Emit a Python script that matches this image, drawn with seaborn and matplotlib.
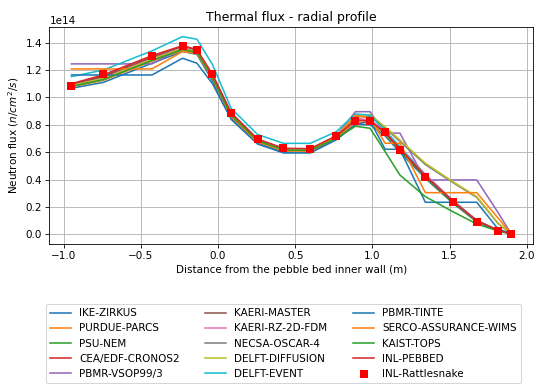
import numpy as np
import matplotlib
matplotlib.use('Agg')
import matplotlib.pyplot as plt
import seaborn as sns
import pandas as pd

# distance from the pebble bed inner wall (m)
x = [-0.95, -0.743, -0.428, -0.23, -0.137, -0.036, 0.085, 0.256, 0.424, 0.597,
     0.765, 0.89, 0.985, 1.082, 1.178, 1.343, 1.52, 1.676, 1.814, 1.898]

# thermal flux, units of 1e14 n/cm2/s
ike_zirkus = [1.067, 1.110, 1.250, 1.335, 1.315, 1.120, 0.850, 0.668, 0.600, 0.600,
              0.700, 0.805, 0.800, 0.720, 0.600, 0.410, 0.230, 0.095, 0.030, 0.006]
purdue_parcs = [1.078, 1.125, 1.265, 1.345, 1.325, 1.140, 0.865, 0.680, 0.612, 0.610,
                0.705, 0.820, 0.815, 0.735, 0.610, 0.420, 0.240, 0.100, 0.032, 0.006]
psu_nem = [1.088, 1.140, 1.280, 1.360, 1.335, 1.150, 0.875, 0.688, 0.620, 0.618,
           0.712, 0.840, 0.830, 0.740, 0.612, 0.415, 0.232, 0.092, 0.028, 0.006]
cea_cronos2 = [1.095, 1.155, 1.295, 1.370, 1.345, 1.160, 0.882, 0.693, 0.625, 0.622,
               0.716, 0.845, 0.835, 0.748, 0.622, 0.425, 0.240, 0.097, 0.029, 0.006]
pbmr_vsop = [1.245, 1.245, 1.245, 1.362, 1.345, 1.165, 0.880, 0.690, 0.622, 0.620,
             0.720, 0.896, 0.896, 0.740, 0.740, 0.398, 0.398, 0.398, 0.160, 0.006]
kaeri_master = [1.092, 1.150, 1.290, 1.368, 1.340, 1.158, 0.880, 0.692, 0.624, 0.621,
                0.714, 0.838, 0.832, 0.752, 0.630, 0.430, 0.245, 0.100, 0.030, 0.006]
kaeri_rz = [1.085, 1.140, 1.282, 1.362, 1.336, 1.152, 0.876, 0.688, 0.620, 0.618,
            0.712, 0.842, 0.836, 0.755, 0.640, 0.440, 0.250, 0.105, 0.032, 0.006]
necsa_oscar = [1.082, 1.135, 1.275, 1.355, 1.330, 1.148, 0.872, 0.685, 0.618, 0.616,
               0.715, 0.860, 0.860, 0.775, 0.680, 0.510, 0.380, 0.270, 0.080, 0.006]
delft_diffusion = [1.086, 1.138, 1.278, 1.358, 1.332, 1.150, 0.874, 0.687, 0.619, 0.617,
                   0.718, 0.870, 0.875, 0.785, 0.690, 0.520, 0.386, 0.276, 0.083, 0.006]
delft_event = [1.152, 1.200, 1.340, 1.444, 1.425, 1.240, 0.920, 0.730, 0.665, 0.665,
               0.750, 0.880, 0.870, 0.760, 0.640, 0.430, 0.245, 0.100, 0.030, 0.006]
pbmr_tinte = [1.164, 1.164, 1.164, 1.286, 1.250, 1.100, 0.840, 0.660, 0.595, 0.595,
              0.690, 0.800, 0.830, 0.622, 0.622, 0.235, 0.235, 0.235, 0.040, 0.006]
serco_wims = [1.208, 1.208, 1.208, 1.335, 1.320, 1.140, 0.860, 0.675, 0.610, 0.610,
              0.705, 0.870, 0.850, 0.666, 0.666, 0.305, 0.305, 0.305, 0.120, 0.006]
kaist_tops = [1.080, 1.130, 1.270, 1.350, 1.328, 1.145, 0.870, 0.684, 0.616, 0.614,
              0.700, 0.790, 0.775, 0.605, 0.434, 0.276, 0.167, 0.077, 0.025, 0.006]
inl_pebbed = [1.100, 1.165, 1.305, 1.378, 1.350, 1.168, 0.888, 0.697, 0.629, 0.626,
              0.719, 0.832, 0.830, 0.745, 0.625, 0.428, 0.245, 0.100, 0.030, 0.006]
inl_rattlesnake = [1.084, 1.169, 1.305, 1.376, 1.347, 1.169, 0.889, 0.697, 0.629, 0.626,
                   0.719, 0.831, 0.831, 0.746, 0.620, 0.422, 0.237, 0.094, 0.028, 0.006]

codes = ['IKE-ZIRKUS', 'PURDUE-PARCS', 'PSU-NEM', 'CEA/EDF-CRONOS2', 'PBMR-VSOP99/3',
         'KAERI-MASTER', 'KAERI-RZ-2D-FDM', 'NECSA-OSCAR-4', 'DELFT-DIFFUSION',
         'DELFT-EVENT', 'PBMR-TINTE', 'SERCO-ASSURANCE-WIMS', 'KAIST-TOPS', 'INL-PEBBED']
series = [ike_zirkus, purdue_parcs, psu_nem, cea_cronos2, pbmr_vsop, kaeri_master,
          kaeri_rz, necsa_oscar, delft_diffusion, delft_event, pbmr_tinte, serco_wims,
          kaist_tops, inl_pebbed]

colours = sns.color_palette('tab10', 10)

fig = plt.figure(figsize=(537 / 75, 385 / 75), dpi=75)
ax = fig.add_axes([0.092, 0.3675, 0.9006, 0.563])

for i in range(len(codes)):
    vals = np.array(series[i]) * 1e14
    sns.lineplot(x=x, y=vals, color=colours[i % 10], label=codes[i], ax=ax,
                 linewidth=1.5)

sns.scatterplot(x=x, y=np.array(inl_rattlesnake) * 1e14, marker='s', color='red',
                s=55, linewidth=0, label='INL-Rattlesnake', ax=ax, zorder=5)

ax.grid(True, color='#b0b0b0', linewidth=0.8)
ax.set_axisbelow(True)
ax.set_title('Thermal flux - radial profile')
ax.set_xlabel('Distance from the pebble bed inner wall (m)')
ax.set_ylabel('Neutron flux ($n/cm^2/s$)')
ax.set_xticks([-1.0, -0.5, 0.0, 0.5, 1.0, 1.5, 2.0])
ax.legend(loc='upper center', bbox_to_anchor=(0.484, -0.255), ncol=3,
          columnspacing=2.45)

fig.savefig('out.png', dpi=75)
